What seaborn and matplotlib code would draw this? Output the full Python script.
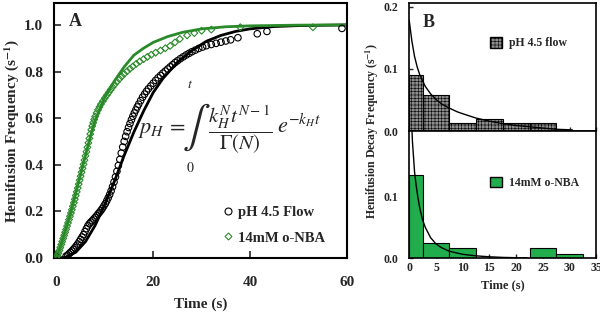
import seaborn as sns
import matplotlib.pyplot as plt
from matplotlib.lines import Line2D
from matplotlib.patches import Patch

# ---- panel A : cumulative hemifusion probability ----
flow_t = [0, 2.0, 2.3, 2.6, 2.9, 3.2, 3.5, 3.8, 4.1, 4.4,
          4.7, 5.0, 5.3, 5.6, 5.9, 6.2, 6.5, 6.8, 7.1, 7.4,
          7.7, 8.0, 8.3, 8.6, 8.9, 9.2, 9.5, 9.8, 10.1, 10.4,
          10.7, 11.0, 11.3, 11.6, 11.9, 12.2, 12.5, 12.8, 13.1, 13.4,
          13.7, 14.0, 14.3, 14.6, 14.9, 15.2, 15.5, 15.8, 16.1, 16.4,
          16.7, 17.0, 17.4, 17.8, 18.2, 18.6, 19.0, 19.5, 20.0, 20.5,
          21.0, 21.5, 22.0, 22.5, 23.0, 23.5, 24.0, 24.5, 25.0, 25.6,
          26.2, 26.8, 27.4, 28.0, 28.7, 29.4, 30.2, 31.0, 32.0, 33.0,
          34.0, 35.0, 36.0, 37.5, 41.5, 43.5, 59.0]
flow_p = [0.005, 0.008, 0.012, 0.018, 0.024, 0.03, 0.037, 0.044, 0.052, 0.06,
          0.07, 0.08, 0.09, 0.1, 0.113, 0.126, 0.138, 0.147, 0.154, 0.16,
          0.167, 0.174, 0.181, 0.189, 0.196, 0.204, 0.213, 0.223, 0.233, 0.245,
          0.258, 0.272, 0.288, 0.306, 0.326, 0.348, 0.372, 0.397, 0.423, 0.45,
          0.476, 0.5, 0.522, 0.542, 0.56, 0.577, 0.593, 0.608, 0.622, 0.635,
          0.648, 0.66, 0.675, 0.69, 0.703, 0.715, 0.726, 0.738, 0.75, 0.762,
          0.773, 0.783, 0.793, 0.802, 0.811, 0.82, 0.829, 0.838, 0.846, 0.855,
          0.863, 0.871, 0.878, 0.885, 0.892, 0.899, 0.905, 0.911, 0.916, 0.921,
          0.926, 0.931, 0.936, 0.945, 0.962, 0.972, 0.985]

nba_t = [0, 0.2, 0.4, 0.6, 0.8, 1.0, 1.2, 1.4, 1.6, 1.8,
         2.0, 2.2, 2.4, 2.6, 2.8, 3.0, 3.2, 3.4, 3.6, 3.8,
         4.0, 4.2, 4.4, 4.6, 4.8, 5.0, 5.2, 5.4, 5.6, 5.8,
         6.0, 6.2, 6.4, 6.6, 6.8, 7.0, 7.2, 7.4, 7.6, 7.8,
         8.0, 8.3, 8.6, 8.9, 9.2, 9.6, 10.0, 10.4, 10.8, 11.2,
         11.6, 12.0, 12.5, 13.0, 13.5, 14.0, 14.6, 15.2, 15.8, 16.5,
         17.2, 18.0, 18.8, 19.6, 20.5, 21.5, 22.5, 23.5, 24.5, 25.5,
         27.0, 28.5, 30.0, 32.0, 38.0, 53.0]
nba_p = [0.005, 0.01, 0.02, 0.032, 0.045, 0.058, 0.071, 0.084, 0.097, 0.11,
         0.123, 0.137, 0.151, 0.165, 0.179, 0.193, 0.207, 0.222, 0.237, 0.252,
         0.268, 0.284, 0.3, 0.317, 0.334, 0.351, 0.368, 0.385, 0.402, 0.42,
         0.438, 0.456, 0.475, 0.494, 0.513, 0.532, 0.55, 0.566, 0.58, 0.594,
         0.607, 0.622, 0.636, 0.648, 0.66, 0.673, 0.686, 0.698, 0.71, 0.722,
         0.733, 0.744, 0.756, 0.768, 0.779, 0.79, 0.801, 0.812, 0.822, 0.833,
         0.843, 0.853, 0.863, 0.872, 0.881, 0.89, 0.9, 0.91, 0.925, 0.94,
         0.955, 0.965, 0.975, 0.98, 0.99, 0.99]

# fitted gamma curves
flow_fit_t = [0, 2, 4, 6, 8, 10, 12, 14, 16, 18, 20, 22, 25, 28, 31, 34, 37, 40, 45, 50, 60]
flow_fit_p = [0, 0.003, 0.025, 0.07, 0.14, 0.23, 0.33, 0.44, 0.54, 0.63, 0.71, 0.77,
              0.84, 0.89, 0.93, 0.955, 0.972, 0.983, 0.993, 0.997, 1.0]
nba_fit_t = [0, 1, 2, 3, 4, 5, 6, 7, 8, 10, 12, 14, 16, 18, 20, 23, 26, 30, 35, 40, 50, 60]
nba_fit_p = [0, 0.06, 0.13, 0.2, 0.28, 0.36, 0.44, 0.52, 0.59, 0.69, 0.76, 0.82, 0.87,
             0.9, 0.925, 0.95, 0.968, 0.983, 0.992, 0.996, 0.999, 1.0]

# ---- panel B : hemifusion decay histograms ----
flow_edges = [0, 2.5, 7.5, 12.5, 17.5, 22.5, 27.5]
flow_mid = [1.25, 5, 10, 15, 20, 25]
flow_hist = [0.090, 0.058, 0.013, 0.019, 0.013, 0.013]
nba_edges = [0, 2.5, 7.5, 12.5, 17.5, 22.5, 27.5, 32.5]
nba_mid = [1.25, 5, 10, 15, 20, 25, 30]
nba_hist = [0.134, 0.024, 0.016, 0.0, 0.0, 0.016, 0.007]

flow_decay_t = [0, 0.5, 1, 1.5, 2, 3, 4, 5, 6, 7.5, 9, 10, 12.5, 15, 17.5, 20, 22.5, 25, 27.5, 30.5]
flow_decay_y = [0.178, 0.145, 0.12, 0.103, 0.09, 0.072, 0.06, 0.051, 0.044, 0.037, 0.031,
                0.028, 0.021, 0.016, 0.012, 0.009, 0.007, 0.005, 0.003, 0.002]
nba_decay_t = [0.2, 0.4, 0.6, 0.8, 1.0, 1.3, 1.6, 2.0, 2.5, 3, 4, 5, 6, 7.5, 10, 12.5, 15, 17.5, 20, 22]
nba_decay_y = [0.30, 0.23, 0.19, 0.165, 0.14, 0.118, 0.1, 0.08, 0.062, 0.05, 0.033, 0.023,
               0.017, 0.011, 0.006, 0.0035, 0.002, 0.001, 0.0005, 0.0003]

sns.set_style('white')
plt.rcParams['font.family'] = ['Liberation Serif', 'DejaVu Serif']
plt.rcParams['font.weight'] = 'normal'   # bold is set per text so the formula stays regular
plt.rcParams['axes.labelweight'] = 'bold'
plt.rcParams['mathtext.fontset'] = 'stix'
plt.rcParams['hatch.linewidth'] = 0.4
plt.rcParams['hatch.color'] = 'black'

green_dark = '#2a8a2a'
green_bar = '#22ad4c'


def bold_ticks(ax):
    for lbl in ax.get_xticklabels() + ax.get_yticklabels():
        lbl.set_fontweight('bold')


fig = plt.figure(figsize=(6, 3.16), dpi=100)
axa = fig.add_axes([0.09, 0.1835, 0.488, 0.807])
axb1 = fig.add_axes([0.682, 0.585, 0.312, 0.4055])
axb2 = fig.add_axes([0.682, 0.1835, 0.312, 0.4015])

# ---- panel A ----
sns.scatterplot(x=flow_t, y=flow_p, ax=axa, marker='o', s=22, facecolor='none',
                edgecolor='black', linewidth=0.8, zorder=3)
sns.scatterplot(x=nba_t, y=nba_p, ax=axa, marker='D', s=12, facecolor='none',
                edgecolor=green_dark, linewidth=0.8, zorder=3)
sns.lineplot(x=flow_fit_t, y=flow_fit_p, ax=axa, color='black', linewidth=2, zorder=2)
sns.lineplot(x=nba_fit_t, y=nba_fit_p, ax=axa, color=green_dark, linewidth=2, zorder=2)
axa.set_xlim(-0.5, 60)
axa.set_ylim(0, 1.094)
axa.set_xticks([0, 20, 40, 60])
axa.set_yticks([0, 0.2, 0.4, 0.6, 0.8, 1.0])
axa.set_yticklabels(['0.0', '0.2', '0.4', '0.6', '0.8', '1.0'])
axa.tick_params(axis='x', direction='in', length=5, width=1.2, pad=13, labelsize=11, bottom=True)
axa.tick_params(axis='y', direction='in', length=5, width=1.2, pad=8, labelsize=11, left=True)
bold_ticks(axa)
for s in axa.spines.values():
    s.set_linewidth(1.5)
    s.set_color('black')
axa.set_xlabel('Time (s)', fontsize=11, labelpad=6)
axa.set_ylabel('Hemifusion Frequency (s$^{\\mathbf{-1}}$)', fontsize=11)
axa.yaxis.set_label_coords(-0.112, 0.5)
axa.text(3.9, 1.013, 'A', fontsize=13, fontweight='bold', ha='center', va='center')

# gamma-cdf formula, built from pieces so the integral sign can be display size
axa.text(16.8, 0.545, r'$p_H\,=$', fontsize=16, ha='left', va='center')
axa.text(29.0, 0.56, r'$\int$', fontsize=30, ha='center', va='center')
axa.text(27.6, 0.745, r'$t$', fontsize=10, ha='center', va='center')
axa.text(27.6, 0.385, r'$0$', fontsize=10, ha='center', va='center')
axa.text(38.0, 0.55, r'$\dfrac{k_H^{N}t^{N-1}}{\Gamma(N)}$', fontsize=15,
         ha='center', va='center')
axa.text(45.6, 0.565, r'$e^{-k_H t}$', fontsize=16, ha='left', va='center')

handles = [Line2D([], [], marker='o', linestyle='none', markerfacecolor='none',
                  markeredgecolor='black', markersize=5, markeredgewidth=0.8),
           Line2D([], [], marker='D', linestyle='none', markerfacecolor='none',
                  markeredgecolor=green_dark, markersize=3.5, markeredgewidth=0.8)]
axa.legend(handles, ['pH 4.5 Flow', '14mM o-NBA'], loc='upper left',
           bbox_to_anchor=(0.58, 0.205), frameon=False,
           prop={'size': 10.5, 'weight': 'bold'},
           handlelength=0.6, handletextpad=0.35, labelspacing=0.85,
           borderpad=0, borderaxespad=0)

# ---- panel B ----
sns.histplot(x=flow_mid, weights=flow_hist, bins=flow_edges, ax=axb1, color='#8c8c8c',
             edgecolor='black', linewidth=0.8, alpha=1, hatch='+++++')
sns.lineplot(x=flow_decay_t, y=flow_decay_y, ax=axb1, color='black', linewidth=1)
sns.histplot(x=nba_mid, weights=nba_hist, bins=nba_edges, ax=axb2, color=green_bar,
             edgecolor='black', linewidth=0.8, alpha=1)
sns.lineplot(x=nba_decay_t, y=nba_decay_y, ax=axb2, color='black', linewidth=1)

for ax in (axb1, axb2):
    ax.set_xlim(0, 35)
    ax.set_ylim(0, 0.206)
    ax.set_ylabel('')
    ax.set_xlabel('')
    ax.tick_params(axis='both', direction='in', length=3, width=1, labelsize=8.5)
    ax.tick_params(axis='y', pad=8, left=True)
    ax.tick_params(axis='x', pad=3, bottom=True)
    for s in ax.spines.values():
        s.set_linewidth(1.2)
        s.set_color('black')
axb1.set_yticks([0, 0.1, 0.2])
axb1.set_yticklabels(['0.0', '0.1', '0.2'])
axb1.set_xticks([0, 5, 10, 15, 20, 25, 30, 35])
axb1.tick_params(axis='x', labelbottom=False)
axb2.set_yticks([0, 0.1])
axb2.set_yticklabels(['0.0', '0.1'])
axb2.set_xticks([0, 5, 10, 15, 20, 25, 30, 35])
bold_ticks(axb1)
bold_ticks(axb2)
axb2.set_xlabel('Time (s)', fontsize=9, labelpad=4)
axb1.text(3.7, 0.174, 'B', fontsize=13, fontweight='bold', ha='center', va='center')

axb1.legend([Patch(facecolor='#8c8c8c', edgecolor='black', hatch='+++++')], ['pH 4.5 flow'],
            loc='upper left', bbox_to_anchor=(0.43, 0.734), frameon=False,
            prop={'size': 8.5, 'weight': 'bold'},
            handlelength=1.0, handleheight=1.0, handletextpad=0.6, borderpad=0, borderaxespad=0)
axb2.legend([Patch(facecolor=green_bar, edgecolor='black')], ['14mM o-NBA'],
            loc='upper left', bbox_to_anchor=(0.43, 0.64), frameon=False,
            prop={'size': 8.5, 'weight': 'bold'},
            handlelength=1.0, handleheight=1.0, handletextpad=0.6, borderpad=0, borderaxespad=0)

fig.text(0.62, 0.585, 'Hemifusion Decay Frequency (s$^{\\mathbf{-1}}$)', rotation=90,
         fontsize=8.5, fontweight='bold', ha='center', va='center')

fig.savefig('out.png', dpi=100)
